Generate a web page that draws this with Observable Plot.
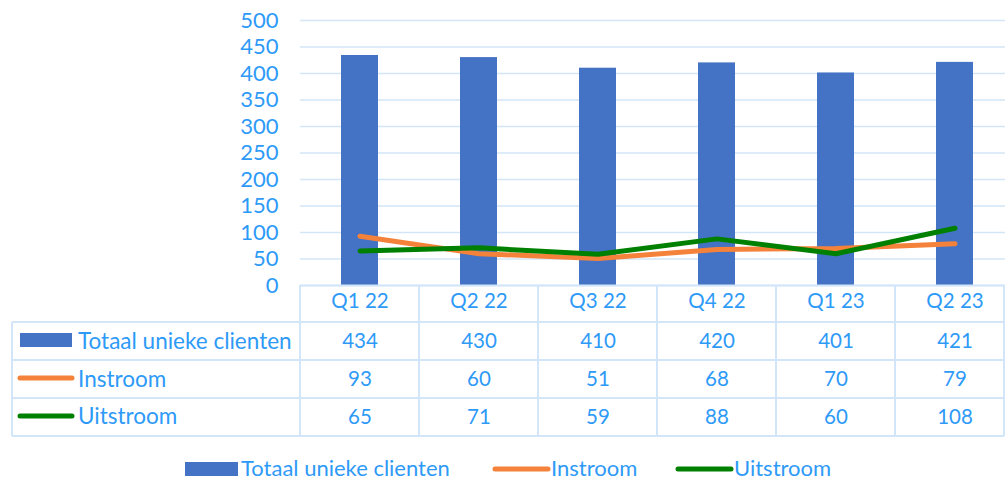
<!DOCTYPE html>
<html>
<head>
<meta charset="utf-8">
<script src="https://cdn.jsdelivr.net/npm/d3@7"></script>
<script src="https://cdn.jsdelivr.net/npm/@observablehq/plot@0.6"></script>
<style>
  html, body { margin: 0; padding: 0; background: #fff; overflow: hidden; }
  #chart svg { display: block; }
</style>
</head>
<body>
<div id="chart"></div>
<script>
const quarters = ["Q1 22", "Q2 22", "Q3 22", "Q4 22", "Q1 23", "Q2 23"];
const totaal = [434, 430, 410, 420, 401, 421];
const instroom = [93, 60, 51, 68, 70, 79];
const uitstroom = [65, 71, 59, 88, 60, 108];
const seriesNames = ["Totaal unieke clienten", "Instroom", "Uitstroom"];
const yTicks = [0, 50, 100, 150, 200, 250, 300, 350, 400, 450, 500];

const colors = { bar: "#4472C4", in: "#F4823A", out: "#008000" };
const textColor = "#2E9AF8";
const gridColor = "#D3E6F9";
const font = "Lato, 'Open Sans', sans-serif";

const rows = quarters.map((q, i) => ({ q, totaal: totaal[i], instroom: instroom[i], uitstroom: uitstroom[i] }));

const W = 1005, H = 482, plotTop = 20, plotBottom = 285;

const chart = Plot.plot({
  width: W,
  height: H,
  marginTop: plotTop,
  marginBottom: H - plotBottom,
  marginLeft: 300,
  marginRight: 0,
  style: { fontFamily: font, background: "#fff", overflow: "visible" },
  x: { domain: quarters, range: [300, 1014], paddingInner: 0.69, paddingOuter: 0.345, axis: null },
  y: { domain: [0, 500], axis: null },
  marks: [
    Plot.gridY(yTicks, { stroke: gridColor, strokeOpacity: 1, strokeWidth: 1.5 }),
    Plot.axisY(yTicks, { tickSize: 0, tickPadding: 22, fontSize: 22, fill: textColor, textAnchor: "end" }),
    Plot.barY(rows, { x: "q", y: "totaal", fill: colors.bar }),
    Plot.lineY(rows, { x: "q", y: "instroom", stroke: colors.in, strokeWidth: 5, strokeLinejoin: "round", strokeLinecap: "round" }),
    Plot.lineY(rows, { x: "q", y: "uitstroom", stroke: colors.out, strokeWidth: 5, strokeLinejoin: "round", strokeLinecap: "round" }),
    Plot.ruleY([0], { stroke: gridColor, strokeWidth: 2 }),
    Plot.text(rows, { x: "q", text: "q", frameAnchor: "bottom", lineAnchor: "middle", dy: 16, fontSize: 20.5, fill: textColor }),
    Plot.text(rows, { x: "q", text: "totaal", frameAnchor: "bottom", lineAnchor: "middle", dy: 56, fontSize: 20.5, fill: textColor }),
    Plot.text(rows, { x: "q", text: "instroom", frameAnchor: "bottom", lineAnchor: "middle", dy: 94, fontSize: 20.5, fill: textColor }),
    Plot.text(rows, { x: "q", text: "uitstroom", frameAnchor: "bottom", lineAnchor: "middle", dy: 132, fontSize: 20.5, fill: textColor })
  ]
});

const xs = chart.scale("x");
const step = xs.apply(quarters[1]) - xs.apply(quarters[0]);
const bounds = quarters.map(q => xs.apply(q) + xs.bandwidth / 2 - step / 2);
bounds.push(bounds[bounds.length - 1] + step);

const svg = d3.select(chart);
const g = svg.append("g").attr("stroke", gridColor).attr("stroke-width", 2);
const rowLines = [322, 360, 398, 436];
const tableLeft = 12, tableRight = 1004;
rowLines.forEach(y => g.append("line").attr("x1", tableLeft).attr("x2", tableRight).attr("y1", y).attr("y2", y));
bounds.forEach(x => g.append("line").attr("x1", x).attr("x2", x).attr("y1", plotBottom).attr("y2", 436));
g.append("line").attr("x1", tableLeft).attr("x2", tableLeft).attr("y1", 322).attr("y2", 436);
g.append("line").attr("x1", tableRight).attr("x2", tableRight).attr("y1", plotBottom).attr("y2", 436);

const labelSize = 22.5;
const lab = svg.append("g").attr("font-family", font).attr("font-size", labelSize).attr("fill", textColor).attr("text-anchor", "start");
const rowY = [341, 379, 416];
lab.append("rect").attr("x", 20).attr("y", 333).attr("width", 52).attr("height", 14).attr("fill", colors.bar);
lab.append("line").attr("x1", 20).attr("x2", 72).attr("y1", 378).attr("y2", 378).attr("stroke", colors.in).attr("stroke-width", 5).attr("stroke-linecap", "round");
lab.append("line").attr("x1", 20).attr("x2", 72).attr("y1", 416).attr("y2", 416).attr("stroke", colors.out).attr("stroke-width", 5).attr("stroke-linecap", "round");
seriesNames.forEach((s, i) => lab.append("text").attr("x", 78).attr("y", rowY[i]).attr("dy", "0.35em").text(s));

const leg = svg.append("g").attr("font-family", font).attr("font-size", 22).attr("fill", textColor).attr("text-anchor", "start");
const ly = 468;
leg.append("rect").attr("x", 185).attr("y", ly - 6).attr("width", 53).attr("height", 14).attr("fill", colors.bar);
leg.append("text").attr("x", 241).attr("y", ly).attr("dy", "0.35em").text(seriesNames[0]);
leg.append("line").attr("x1", 495).attr("x2", 548).attr("y1", ly + 1).attr("y2", ly + 1).attr("stroke", colors.in).attr("stroke-width", 5).attr("stroke-linecap", "round");
leg.append("text").attr("x", 551).attr("y", ly).attr("dy", "0.35em").text(seriesNames[1]);
leg.append("line").attr("x1", 678).attr("x2", 731).attr("y1", ly + 1).attr("y2", ly + 1).attr("stroke", colors.out).attr("stroke-width", 5).attr("stroke-linecap", "round");
leg.append("text").attr("x", 734).attr("y", ly).attr("dy", "0.35em").text(seriesNames[2]);

document.getElementById("chart").appendChild(chart);
</script>
</body>
</html>
